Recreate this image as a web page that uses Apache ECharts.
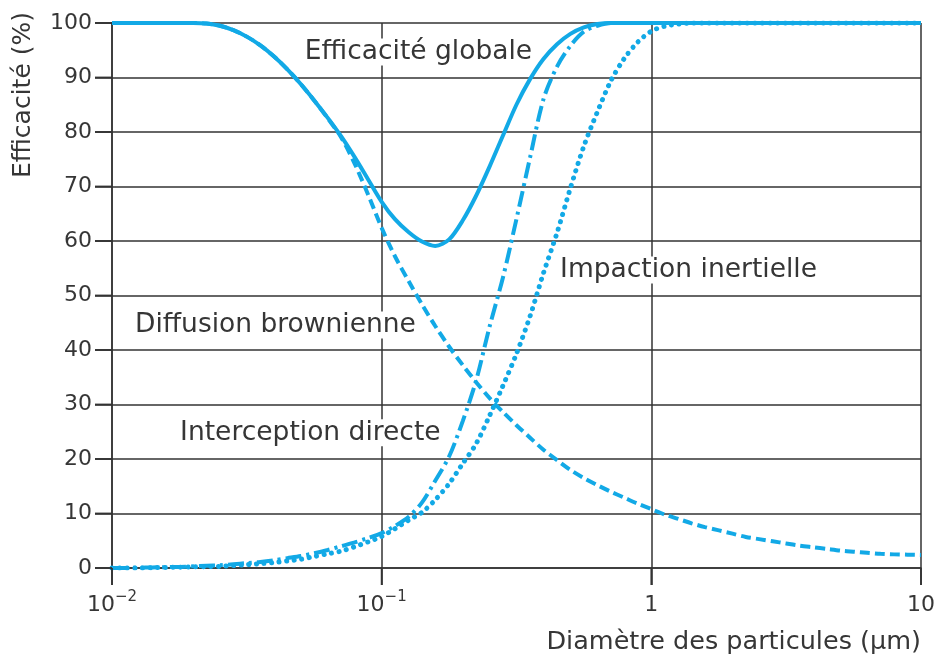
<!DOCTYPE html>
<html><head><meta charset="utf-8">
<script src="https://cdn.jsdelivr.net/npm/echarts@6/dist/echarts.min.js"></script>
<style>html,body{margin:0;padding:0;background:#fff}#c{width:941px;height:658px}</style>
</head><body><div id="c"></div>
<script>
// Particle diameter (µm), sampled every 0.05 decade from 0.01 to 10
const diameters = [
  0.01,0.0112,0.0126,0.0141,0.0158,0.0178,0.02,0.0224,0.0251,0.0282,
  0.0316,0.0355,0.0398,0.0447,0.0501,0.0562,0.0631,0.0708,0.0794,0.0891,
  0.1,0.112,0.126,0.141,0.158,0.178,0.2,0.224,0.251,0.282,
  0.316,0.355,0.398,0.447,0.501,0.562,0.631,0.708,0.794,0.891,
  1,1.12,1.26,1.41,1.58,1.78,2,2.24,2.51,2.82,
  3.16,3.55,3.98,4.47,5.01,5.62,6.31,7.08,7.94,8.91,10];
// Efficiency (%)
const globale = [
  100,100,100,100,100,100,100,99.9,99.5,98.7,
  97.5,95.9,93.9,91.5,88.8,85.8,82.6,79.2,75.4,71.3,
  67.2,64,61.6,59.9,59.1,60.3,63.8,68.3,73.6,79.4,
  85,89.7,93.4,96.1,98,99.2,99.8,100,100,100,
  100,100,100,100,100,100,100,100,100,100,
  100,100,100,100,100,100,100,100,100,100,100];
const diffusion = [
  100,100,100,100,100,100,100,99.9,99.5,98.7,
  97.5,95.9,93.9,91.5,88.8,85.8,82.5,79,74.2,68.5,
  62.4,57.2,52.6,48.4,44.4,40.6,37.2,34.1,31.2,28.6,
  26.2,23.9,21.7,19.8,18,16.5,15.2,14,12.9,11.8,
  10.8,9.8,9,8.2,7.5,6.9,6.3,5.7,5.3,4.9,
  4.5,4.1,3.8,3.5,3.2,3,2.8,2.6,2.5,2.45,2.4];
const interception = [
  0,0,0.05,0.1,0.15,0.2,0.3,0.4,0.5,0.7,
  0.9,1.1,1.4,1.8,2.2,2.7,3.3,4,4.7,5.5,
  6.4,7.7,9.4,12,16,20.5,27,34.4,44.2,53.4,
  64,75.3,86,92,95.8,98.4,99.5,100,100,100,
  100,100,100,100,100,100,100,100,100,100,
  100,100,100,100,100,100,100,100,100,100,100];
const impaction = [
  0,0,0,0.05,0.1,0.15,0.2,0.25,0.3,0.45,
  0.6,0.8,1,1.3,1.6,2.1,2.6,3.1,3.9,4.8,
  5.8,7.2,8.8,10.2,12.5,15.5,19.2,22.8,27.9,33.5,
  39.3,46.2,54.1,61.5,69.7,77.4,83.7,89.4,93.5,96.5,
  98.5,99.4,99.8,100,100,100,100,100,100,100,
  100,100,100,100,100,100,100,100,100,100,100];

const xTickValues = [0.01, 0.1, 1, 10];
const xTickLabels = [['10','−2'], ['10','−1'], ['1',''], ['10','']];
const yTicks = [0,10,20,30,40,50,60,70,80,90,100];

const seriesNames = ['Efficacité globale','Diffusion brownienne','Interception directe','Impaction inertielle'];
// annotation anchors in data coordinates [diameter, efficiency] (left-middle of text)
const annotations = [
  {text:'Efficacité globale', at:[0.051, 94.7]},
  {text:'Impaction inertielle', at:[0.451, 54.7]},
  {text:'Diffusion brownienne', at:[0.01197, 44.6]},
  {text:'Interception directe', at:[0.01758, 24.8]}
];
const yName = 'Efficacité (%)';
const xName = 'Diamètre des particules (µm)';

const C = '#12A9E6';
const TXT = '#363636';
const AX = '#333';
const FONT = '"DejaVu Sans", sans-serif';
const GRID = {left:112, right:20, top:23, bottom:90};
const TICK = 17;

function pairs(arr){ return diameters.map((d,i)=>[d,arr[i]]); }

const chart = echarts.init(document.getElementById('c'), null, {renderer:'canvas'});
const option = {
  animation:false,
  backgroundColor:'#fff',
  grid: GRID,
  xAxis: {
    type:'log', logBase:10, min:0.01, max:10,
    axisLine:{show:true, onZero:false, lineStyle:{color:AX, width:1.5}},
    axisTick:{show:true, length:TICK, inside:false, lineStyle:{color:AX, width:1.5}},
    splitLine:{show:true, lineStyle:{color:AX, width:1.5}},
    minorTick:{show:false}, minorSplitLine:{show:false},
    axisLabel:{
      margin:22, color:TXT, fontFamily:FONT, fontSize:22,
      formatter:function(v){
        const i = xTickValues.findIndex(t=>Math.abs(Math.log10(t)-Math.log10(v))<1e-6);
        if(i<0) return '';
        const l = xTickLabels[i];
        return l[1] ? '{b|'+l[0]+'}{s|'+l[1]+'}' : '{b|'+l[0]+'}';
      },
      rich:{
        b:{fontSize:22, color:TXT, fontFamily:FONT, lineHeight:26, verticalAlign:'bottom'},
        s:{fontSize:15, color:TXT, fontFamily:FONT, lineHeight:26, verticalAlign:'top', padding:[0,0,12,0]}
      }
    }
  },
  yAxis: {
    type:'value', min:0, max:100, interval:10,
    axisLine:{show:true, lineStyle:{color:AX, width:1.5}},
    axisTick:{show:true, length:TICK, lineStyle:{color:AX, width:1.5}},
    splitLine:{show:true, lineStyle:{color:AX, width:1.5}},
    axisLabel:{margin:20, color:TXT, fontFamily:FONT, fontSize:22}
  },
  series: [
    {name:seriesNames[1], type:'line', data:pairs(diffusion), symbol:'none', smooth:0.3, z:3,
      lineStyle:{color:C, width:4, type:[10,5]}},
    {name:seriesNames[2], type:'line', data:pairs(interception), symbol:'none', smooth:0.3, z:3,
      lineStyle:{color:C, width:4, type:[16,5,3,5]}},
    {name:seriesNames[3], type:'line', data:pairs(impaction), symbol:'none', smooth:0.3, z:3,
      lineStyle:{color:C, width:5, type:[0.1,7.5], cap:'round'}},
    {name:seriesNames[0], type:'line', data:pairs(globale), symbol:'none', smooth:0.3, z:4,
      lineStyle:{color:C, width:4}}
  ]
};
chart.setOption(option);

const g = [];
// axis tick marks, drawn outside the plot like the reference
xTickValues.forEach(v=>{
  const p = chart.convertToPixel({gridIndex:0}, [v, 0]);
  g.push({type:'line', z:50, shape:{x1:p[0], y1:p[1], x2:p[0], y2:p[1]+TICK}, style:{stroke:AX, lineWidth:1.8}});
});
yTicks.forEach(v=>{
  const p = chart.convertToPixel({gridIndex:0}, [0.01, v]);
  g.push({type:'line', z:50, shape:{x1:p[0]-TICK, y1:p[1], x2:p[0], y2:p[1]}, style:{stroke:AX, lineWidth:1.8}});
});
annotations.forEach(a=>{
  const p = chart.convertToPixel({gridIndex:0}, a.at);
  g.push({type:'text', x:p[0], y:p[1], z:100,
    style:{text:a.text, fill:TXT, font:'26.5px '+FONT, textAlign:'left', textVerticalAlign:'middle',
      backgroundColor:'#fff', padding:[0,2]}});
});
g.push({type:'text', x:23, y:12, rotation:Math.PI/2, z:100,
  style:{text:yName, fill:TXT, font:'25px '+FONT, textAlign:'right', textVerticalAlign:'middle'}});
g.push({type:'text', x:941-GRID.right, y:642, z:100,
  style:{text:xName, fill:TXT, font:'25.5px '+FONT, textAlign:'right', textVerticalAlign:'middle'}});
chart.setOption({graphic:g});
</script>
</body></html>
